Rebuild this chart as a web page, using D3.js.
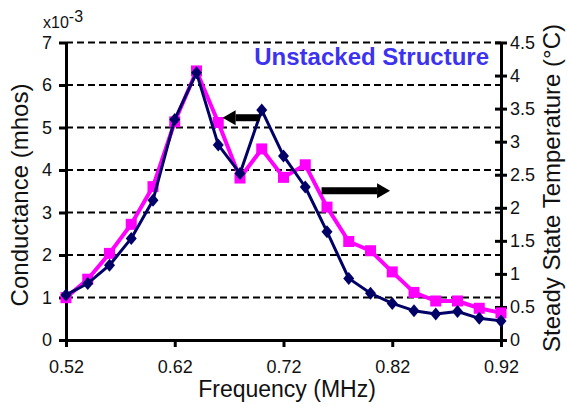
<!DOCTYPE html>
<html>
<head>
<meta charset="utf-8">
<script src="https://cdn.jsdelivr.net/npm/d3@7"></script>
<style>
  body { margin: 0; background: #fff; }
  svg { display: block; font-family: "Liberation Sans", Arial, sans-serif; }
</style>
</head>
<body>
<div id="chart"></div>
<script>
// frequency in MHz
const frequencies = [0.52, 0.54, 0.56, 0.58, 0.60, 0.62, 0.64, 0.66, 0.68, 0.70, 0.72,
                     0.74, 0.76, 0.78, 0.80, 0.82, 0.84, 0.86, 0.88, 0.90, 0.92];
// conductance, x10^-3 mhos (left axis)
const conductance = [1.06, 1.33, 1.76, 2.39, 3.29, 5.19, 6.29, 4.59, 3.92, 5.41, 4.33,
                     3.60, 2.55, 1.45, 1.10, 0.86, 0.69, 0.61, 0.67, 0.51, 0.45];
// steady state temperature, degC (right axis)
const temperature = [0.64, 0.92, 1.31, 1.75, 2.32, 3.30, 4.07, 3.29, 2.45, 2.89, 2.46,
                     2.65, 2.01, 1.49, 1.35, 1.03, 0.72, 0.59, 0.59, 0.48, 0.41];

const xTicks = [0.52, 0.62, 0.72, 0.82, 0.92];
const leftTicks = [0, 1, 2, 3, 4, 5, 6, 7];
const rightTicks = [0, 0.5, 1, 1.5, 2, 2.5, 3, 3.5, 4, 4.5];

const width = 567;
const height = 407;
const margin = { top: 42.5, right: 66, bottom: 67, left: 66 };

const svg = d3.select('#chart')
    .append('svg')
    .attr('width', width)
    .attr('height', height);

const x = d3.scaleLinear()
    .domain([0.52, 0.92])
    .range([margin.left, width - margin.right]);

const yLeft = d3.scaleLinear()
    .domain([0, 7])
    .range([height - margin.bottom, margin.top]);

const yRight = d3.scaleLinear()
    .domain([0, 4.5])
    .range([height - margin.bottom, margin.top]);

// dashed grid
svg.append('g')
    .selectAll('line')
    .data(leftTicks.slice(1))
    .enter().append('line')
    .attr('x1', x(0.52))
    .attr('x2', x(0.92))
    .attr('y1', d => yLeft(d))
    .attr('y2', d => yLeft(d))
    .attr('stroke', '#000')
    .attr('stroke-width', 2)
    .attr('stroke-dasharray', '7,4');

// axes
const styleAxis = g => {
    g.select('.domain').attr('stroke', '#000').attr('stroke-width', 3);
    g.selectAll('.tick line').attr('stroke', '#000').attr('stroke-width', 3);
    g.selectAll('.tick text')
        .attr('fill', '#111')
        .style('font-size', '18px')
        .style('font-family', '"Liberation Sans", Arial, sans-serif');
};

svg.append('g')
    .attr('transform', `translate(0,${height - margin.bottom})`)
    .call(d3.axisBottom(x).tickValues(xTicks).tickSizeInner(7).tickSizeOuter(0)
        .tickPadding(13).tickFormat(d3.format('.2f')))
    .call(styleAxis);

svg.append('g')
    .attr('transform', `translate(${margin.left},0)`)
    .call(d3.axisLeft(yLeft).tickValues(leftTicks).tickSizeInner(7).tickSizeOuter(0)
        .tickPadding(7).tickFormat(d3.format('d')))
    .call(styleAxis);

svg.append('g')
    .attr('transform', `translate(${width - margin.right},0)`)
    .call(d3.axisRight(yRight).tickValues(rightTicks).tickSizeInner(6).tickSizeOuter(0)
        .tickPadding(3).tickFormat(d => d === 0 ? '0' : d3.format('.1~f')(d)))
    .call(styleAxis)
    .call(g => g.selectAll('.tick line').attr('x1', -6));

// series
const pinkLine = d3.line()
    .x((d, i) => x(frequencies[i]))
    .y(d => yRight(d));

const navyLine = d3.line()
    .x((d, i) => x(frequencies[i]))
    .y(d => yLeft(d));

svg.append('path')
    .datum(temperature)
    .attr('fill', 'none')
    .attr('stroke', '#ff00ff')
    .attr('stroke-width', 4)
    .attr('stroke-linejoin', 'round')
    .attr('d', pinkLine);

svg.append('g')
    .selectAll('rect')
    .data(temperature)
    .enter().append('rect')
    .attr('x', (d, i) => x(frequencies[i]) - 5.5)
    .attr('y', d => yRight(d) - 5.5)
    .attr('width', 11)
    .attr('height', 11)
    .attr('fill', '#ff00ff');

svg.append('path')
    .datum(conductance)
    .attr('fill', 'none')
    .attr('stroke', '#000066')
    .attr('stroke-width', 3)
    .attr('stroke-linejoin', 'round')
    .attr('d', navyLine);

svg.append('g')
    .selectAll('path')
    .data(conductance)
    .enter().append('path')
    .attr('transform', (d, i) => `translate(${x(frequencies[i])},${yLeft(d)})`)
    .attr('d', 'M0,-6.5L5.5,0L0,6.5L-5.5,0Z')
    .attr('fill', '#000066');

// arrows telling which axis each curve belongs to
const arrows = [
    { from: [0.698, 5.23], to: [0.664, 5.23] },
    { from: [0.755, 3.51], to: [0.818, 3.51] }
];

arrows.forEach(a => {
    const x0 = x(a.from[0]), x1 = x(a.to[0]), yy = yLeft(a.from[1]);
    const dir = x1 > x0 ? 1 : -1;
    const head = 13;
    svg.append('line')
        .attr('x1', x0)
        .attr('x2', x1 - dir * head)
        .attr('y1', yy)
        .attr('y2', yy)
        .attr('stroke', '#000')
        .attr('stroke-width', 7);
    svg.append('path')
        .attr('d', `M${x1},${yy}L${x1 - dir * head},${yy - 7.5}L${x1 - dir * head},${yy + 7.5}Z`)
        .attr('fill', '#000');
});

// texts
svg.append('text')
    .attr('x', 489)
    .attr('y', 65)
    .attr('text-anchor', 'end')
    .style('font-size', '24px')
    .style('font-weight', 'bold')
    .attr('fill', '#3c32f0')
    .text('Unstacked Structure');

const exp = svg.append('text')
    .attr('x', 43)
    .attr('y', 28)
    .style('font-size', '16px')
    .attr('fill', '#111');
exp.append('tspan').text('x10');
exp.append('tspan').attr('dy', -6).text('-3');

svg.append('text')
    .attr('x', 287)
    .attr('y', 397)
    .attr('text-anchor', 'middle')
    .style('font-size', '23px')
    .attr('fill', '#111')
    .text('Frequency (MHz)');

svg.append('text')
    .attr('transform', `translate(28,195) rotate(-90)`)
    .attr('text-anchor', 'middle')
    .style('font-size', '24px')
    .attr('fill', '#111')
    .text('Conductance (mhos)');

svg.append('text')
    .attr('transform', `translate(560,188) rotate(-90)`)
    .attr('text-anchor', 'middle')
    .style('font-size', '24px')
    .attr('fill', '#111')
    .text('Steady State Temperature (°C)');
</script>
</body>
</html>
